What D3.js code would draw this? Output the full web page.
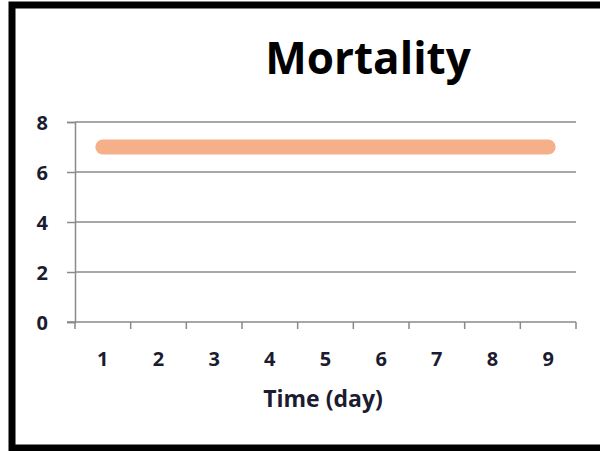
<!DOCTYPE html>
<html>
<head>
<meta charset="utf-8">
<script src="https://cdn.jsdelivr.net/npm/d3@7"></script>
<style>
  html, body { margin: 0; padding: 0; background: #fff; }
  svg { display: block; }
  text { font-family: "Open Sans", Lato, sans-serif; font-weight: bold; }
</style>
</head>
<body>
<svg id="chart" width="600" height="451"></svg>
<script>
// chart data
let days = ["1", "2", "3", "4", "5", "6", "7", "8", "9"];
let mortality = [7, 7, 7, 7, 7, 7, 7, 7, 7];
let yTicks = [0, 2, 4, 6, 8];

let svg = d3.select("#chart");

// frame around the chart area (no right edge in the picture)
svg.append("path")
    .attr("d", "M604,5 H12 V448 H604")
    .attr("fill", "none")
    .attr("stroke", "#000")
    .attr("stroke-width", 7);

let plotLeft = 75, plotRight = 576, plotTop = 122, plotBottom = 322;

let x = d3.scaleBand()
    .domain(days)
    .range([plotLeft, plotRight]);

let y = d3.scaleLinear()
    .domain([0, 8])
    .range([plotBottom, plotTop]);

let gridColor = "#8a8a8a";
let labelColor = "#1c1c30";

// horizontal grid lines
svg.append("g")
    .selectAll("line")
    .data(yTicks.filter(function (d) { return d > 0; }))
    .enter()
    .append("line")
    .attr("x1", plotLeft)
    .attr("x2", plotRight)
    .attr("y1", function (d) { return y(d); })
    .attr("y2", function (d) { return y(d); })
    .attr("stroke", gridColor)
    .attr("stroke-width", 1.5);

// y axis
let yAxis = svg.append("g")
    .attr("transform", "translate(" + plotLeft + ",0)")
    .call(d3.axisLeft(y).tickValues(yTicks).tickSize(8).tickPadding(19));
yAxis.select(".domain").attr("stroke", gridColor).attr("stroke-width", 1.5);
yAxis.selectAll(".tick line").attr("stroke", gridColor).attr("stroke-width", 1.5);
yAxis.selectAll("text")
    .attr("font-size", 20)
    .attr("dy", "0.36em")
    .attr("fill", labelColor)
    .style("font-family", "'Open Sans', sans-serif")
    .style("font-weight", "bold");

// x axis: ticks sit between categories, as Excel does
let bounds = days.map(function (d) { return x(d); }).concat([plotRight]);
let xAxis = svg.append("g");
xAxis.append("line")
    .attr("x1", plotLeft - 8)
    .attr("x2", plotRight)
    .attr("y1", plotBottom)
    .attr("y2", plotBottom)
    .attr("stroke", gridColor)
    .attr("stroke-width", 1.5);
xAxis.selectAll(".xt")
    .data(bounds)
    .enter()
    .append("line")
    .attr("class", "xt")
    .attr("x1", function (d) { return d; })
    .attr("x2", function (d) { return d; })
    .attr("y1", plotBottom)
    .attr("y2", plotBottom + 7)
    .attr("stroke", gridColor)
    .attr("stroke-width", 1.5);
xAxis.selectAll(".xl")
    .data(days)
    .enter()
    .append("text")
    .attr("class", "xl")
    .attr("x", function (d) { return x(d) + x.bandwidth() / 2; })
    .attr("y", 366)
    .attr("text-anchor", "middle")
    .attr("font-size", 20)
    .attr("fill", labelColor)
    .text(function (d) { return d; });

// the mortality series
let line = d3.line()
    .x(function (d, i) { return x(days[i]) + x.bandwidth() / 2; })
    .y(function (d) { return y(d); });

svg.append("path")
    .datum(mortality)
    .attr("d", line)
    .attr("fill", "none")
    .attr("stroke", "#f5b08a")
    .attr("stroke-width", 15)
    .attr("stroke-linecap", "round");

// titles
svg.append("text")
    .attr("x", 368)
    .attr("y", 74)
    .attr("text-anchor", "middle")
    .attr("font-size", 44)
    .attr("fill", "#000")
    .text("Mortality");

svg.append("text")
    .attr("x", 323)
    .attr("y", 407)
    .attr("text-anchor", "middle")
    .attr("font-size", 23)
    .attr("fill", labelColor)
    .text("Time (day)");
</script>
</body>
</html>
